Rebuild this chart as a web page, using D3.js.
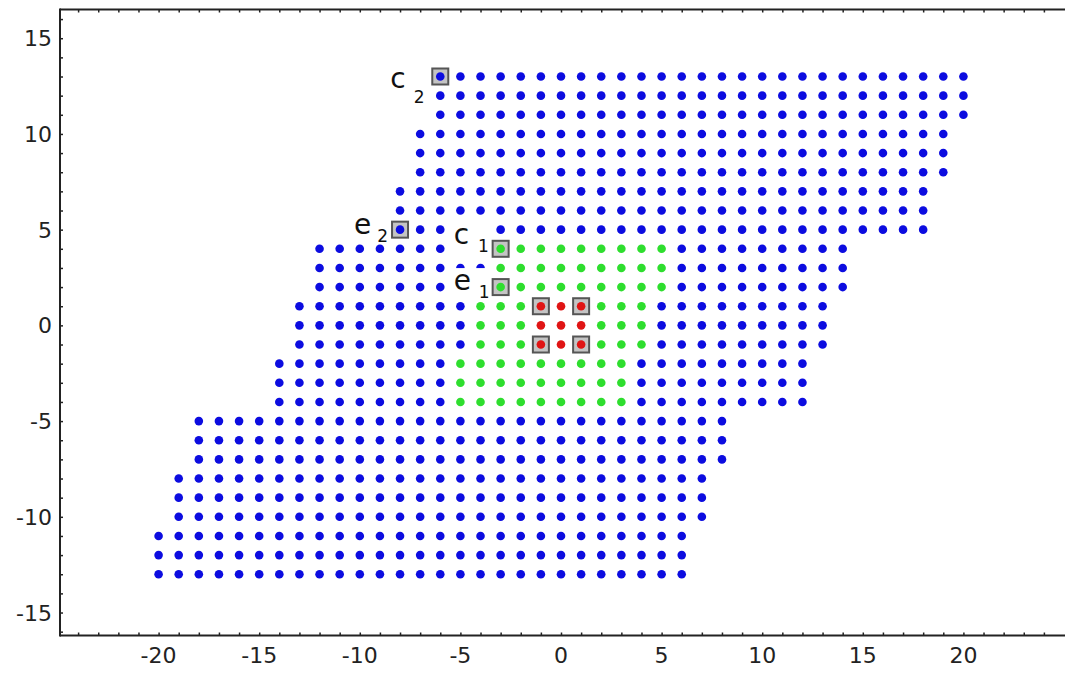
<!DOCTYPE html>
<html>
<head>
<meta charset="utf-8">
<script src="https://cdn.jsdelivr.net/npm/d3@7"></script>
<style>
  body { margin: 0; background: #fff; }
  text { font-family: "DejaVu Sans", sans-serif; }
</style>
</head>
<body>
<div id="plot"></div>
<script>
// lattice rows: [y, first x, last x]
var blueRows = [
  [13, -6, 20], [12, -6, 20], [11, -6, 20],
  [10, -7, 19], [9, -7, 19], [8, -7, 19],
  [7, -8, 18], [6, -8, 18], [5, -8, 18],
  [4, -12, 14], [3, -12, 14], [2, -12, 14],
  [1, -13, 13], [0, -13, 13], [-1, -13, 13],
  [-2, -14, 12], [-3, -14, 12], [-4, -14, 12],
  [-5, -18, 8], [-6, -18, 8], [-7, -18, 8],
  [-8, -19, 7], [-9, -19, 7], [-10, -19, 7],
  [-11, -20, 6], [-12, -20, 6], [-13, -20, 6]
];
var greenRows = [
  [4, -3, 5], [3, -3, 5], [2, -3, 5],
  [1, -4, 4], [0, -4, 4], [-1, -4, 4],
  [-2, -5, 3], [-3, -5, 3], [-4, -5, 3]
];
var redRows = [
  [1, -1, 1], [0, -1, 1], [-1, -1, 1]
];
// marked points (boxed)
var boxed = [[-6, 13], [-8, 5], [-3, 4], [-3, 2], [-1, 1], [1, 1], [-1, -1], [1, -1]];
var labels = [
  { name: "c", sub: "2", x: -6, y: 13 },
  { name: "e", sub: "2", x: -8, y: 5 },
  { name: "c", sub: "1", x: -3, y: 4 },
  { name: "e", sub: "1", x: -3, y: 2 }
];
var xTickLabels = [-20, -15, -10, -5, 0, 5, 10, 15, 20];
var yTickLabels = [-15, -10, -5, 0, 5, 10, 15];

// label placement in pixels relative to the point: [dx, dy, subDx, subDy, background]
var labelOffsets = [
  [-50, 11, 8, 15, false],
  [-46, 4, 6, 8, false],
  [-47, -5, 9, 8, true],
  [-47, 3, 8, 8, true]
];

var width = 1065, height = 673;
var mLeft = 60, mRight = 1062, mTop = 9.5, mBottom = 635.5;

var colors = { blue: "#0c0ce0", green: "#2ede2e", red: "#e01414" };

var x = d3.scaleLinear().domain([-24.9, 24.9]).range([mLeft, mRight]);
var y = d3.scaleLinear().domain([-16.2, 16.5]).range([mBottom, mTop]);

var svg = d3.select("#plot").append("svg")
  .attr("width", width)
  .attr("height", height);

// build the point list, later colours override earlier ones
var pts = {};
function addRows(rows, col) {
  rows.forEach(function (r) {
    for (var i = r[1]; i <= r[2]; i++) {
      pts[i + "," + r[0]] = { x: i, y: r[0], c: col };
    }
  });
}
addRows(blueRows, colors.blue);
addRows(greenRows, colors.green);
addRows(redRows, colors.red);
var points = Object.values(pts);

// ticks
var tickColor = "#222";
var xTicks = d3.range(-24, 25);
var yTicks = d3.range(-16, 17);

svg.append("g")
  .attr("transform", "translate(0," + mBottom + ")")
  .call(d3.axisBottom(x).tickValues(xTicks).tickSize(-3).tickFormat(""))
  .call(function (g) { g.select(".domain").remove(); });

svg.append("g")
  .attr("transform", "translate(0," + mTop + ")")
  .call(d3.axisTop(x).tickValues(xTicks).tickSize(-3).tickFormat(""))
  .call(function (g) { g.select(".domain").remove(); });

svg.append("g")
  .attr("transform", "translate(" + mLeft + ",0)")
  .call(d3.axisLeft(y).tickValues(yTicks).tickSize(-3).tickFormat(""))
  .call(function (g) { g.select(".domain").remove(); });

svg.selectAll(".tick line").attr("stroke", tickColor).attr("stroke-width", 1.5);

// tick labels
svg.append("g").selectAll("text")
  .data(xTickLabels)
  .join("text")
  .attr("x", function (d) { return x(d); })
  .attr("y", 663)
  .attr("text-anchor", "middle")
  .attr("font-size", 22)
  .attr("fill", "#222")
  .text(function (d) { return d; });

svg.append("g").selectAll("text")
  .data(yTickLabels)
  .join("text")
  .attr("x", 52)
  .attr("y", function (d) { return y(d) + 8; })
  .attr("text-anchor", "end")
  .attr("font-size", 22)
  .attr("fill", "#222")
  .text(function (d) { return d; });

// frame
svg.append("line").attr("x1", mLeft).attr("x2", width).attr("y1", mTop).attr("y2", mTop)
  .attr("stroke", "#222").attr("stroke-width", 2);
svg.append("line").attr("x1", mLeft).attr("x2", width).attr("y1", mBottom).attr("y2", mBottom)
  .attr("stroke", "#222").attr("stroke-width", 2);
svg.append("line").attr("x1", mLeft).attr("x2", mLeft).attr("y1", mTop - 1).attr("y2", mBottom + 1)
  .attr("stroke", "#222").attr("stroke-width", 2);

var r = 4.3;

svg.append("g").selectAll("circle")
  .data(points)
  .join("circle")
  .attr("cx", function (d) { return x(d.x); })
  .attr("cy", function (d) { return y(d.y); })
  .attr("r", r)
  .attr("fill", function (d) { return d.c; });

// labels (some with white background that hides points)
var lg = svg.append("g");
labels.forEach(function (l, i) {
  var o = labelOffsets[i];
  var px = x(l.x) + o[0], py = y(l.y) + o[1];
  var g = lg.append("g");
  var t = g.append("text")
    .attr("x", px)
    .attr("y", py)
    .attr("font-size", 28)
    .attr("fill", "#111")
    .text(l.name);
  t.append("tspan")
    .attr("dx", o[2])
    .attr("dy", o[3])
    .attr("font-size", 17)
    .text(l.sub);
  if (o[4]) {
    var bb = t.node().getBBox();
    g.insert("rect", "text")
      .attr("x", bb.x - 1)
      .attr("y", py - 22)
      .attr("width", bb.width + 1)
      .attr("height", o[3] + 25)
      .attr("fill", "#fff");
  }
});

// boxes around the marked points
var bx = svg.append("g");
bx.selectAll("rect")
  .data(boxed)
  .join("rect")
  .attr("x", function (d) { return x(d[0]) - 8; })
  .attr("y", function (d) { return y(d[1]) - 8; })
  .attr("width", 16)
  .attr("height", 16)
  .attr("fill", "#c4c4c4")
  .attr("stroke", "#555")
  .attr("stroke-width", 2);

bx.selectAll("circle")
  .data(boxed)
  .join("circle")
  .attr("cx", function (d) { return x(d[0]); })
  .attr("cy", function (d) { return y(d[1]); })
  .attr("r", r)
  .attr("fill", function (d) { return pts[d[0] + "," + d[1]].c; });
</script>
</body>
</html>
